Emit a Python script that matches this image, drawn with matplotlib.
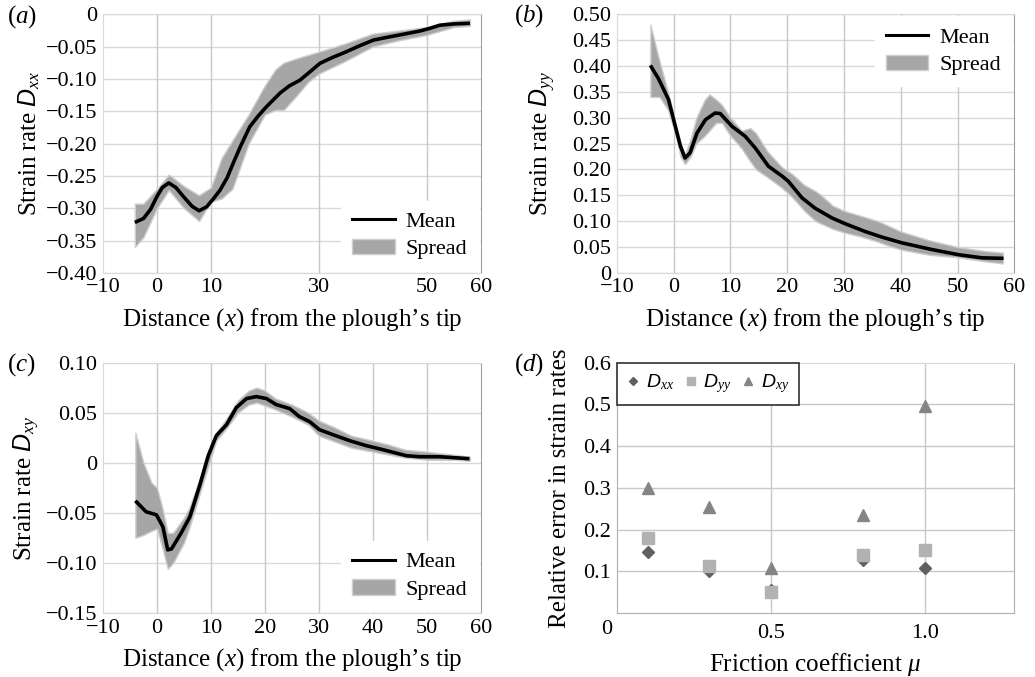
import numpy as np
import matplotlib
matplotlib.use("Agg")
import matplotlib.pyplot as plt
from matplotlib.lines import Line2D
from matplotlib.patches import Patch

plt.rcParams["font.family"] = ["Liberation Serif", "DejaVu Serif"]
plt.rcParams["mathtext.fontset"] = "custom"
plt.rcParams["mathtext.rm"] = "Liberation Serif"
plt.rcParams["mathtext.it"] = "Liberation Serif:italic"
plt.rcParams["mathtext.sf"] = "Liberation Sans:italic"
plt.rcParams["axes.unicode_minus"] = True

# (a) Dxx
a_x = [-4.1, -2.5, -1.2, 0.0, 1.0, 2.2, 3.5, 4.9, 6.5, 7.8, 9.2, 10.5, 11.7, 13.0, 14.1, 15.5, 17.2,
       18.8, 20.3, 22.8, 24.5, 26.5, 28.5, 30.2, 32.5, 35.1, 37.5, 40.1, 42.5, 45.0, 48.7, 50.5, 52.4, 55.0, 58.0]
a_mean = [-0.322, -0.316, -0.302, -0.282, -0.268, -0.261, -0.268, -0.282, -0.297, -0.304, -0.298, -0.285,
          -0.272, -0.253, -0.231, -0.204, -0.174, -0.157, -0.143, -0.122, -0.111, -0.102, -0.088, -0.076,
          -0.067, -0.058, -0.049, -0.040, -0.036, -0.032, -0.026, -0.022, -0.017, -0.015, -0.014]
a_bx = [-4.1, -2.5, 0.0, 2.2, 5.0, 7.8, 10.0, 12.0, 14.0, 17.0, 20.0, 22.0, 23.5, 26.0, 28.0, 30.0,
        35.0, 40.0, 45.0, 50.0, 55.0, 58.0]
a_hi = [-0.293, -0.293, -0.270, -0.248, -0.266, -0.280, -0.268, -0.222, -0.195, -0.155, -0.110, -0.085,
        -0.075, -0.068, -0.063, -0.058, -0.045, -0.030, -0.025, -0.020, -0.010, -0.008]
a_lo = [-0.360, -0.345, -0.300, -0.272, -0.300, -0.320, -0.290, -0.285, -0.270, -0.200, -0.155, -0.148,
        -0.148, -0.125, -0.105, -0.092, -0.072, -0.050, -0.040, -0.032, -0.020, -0.018]

# (b) Dyy
b_x = [-4.1, -2.7, -0.9, 0.3, 1.2, 2.0, 2.9, 4.1, 5.6, 7.3, 8.2, 10.3, 12.6, 14.4, 16.7, 19.1, 20.2,
       22.6, 24.9, 27.9, 30.2, 33.7, 36.7, 40.2, 45.5, 50.2, 54.3, 58.1]
b_mean = [0.401, 0.376, 0.335, 0.283, 0.245, 0.222, 0.232, 0.270, 0.296, 0.309, 0.308, 0.283, 0.264,
          0.241, 0.206, 0.187, 0.177, 0.145, 0.125, 0.106, 0.095, 0.080, 0.069, 0.058, 0.045, 0.035,
          0.029, 0.028]
b_bx = [-4.1, -2.5, -1.0, 0.3, 1.2, 2.0, 3.0, 4.0, 5.5, 6.3, 7.5, 8.5, 10.0, 12.0, 13.5, 14.5, 16.5,
        19.0, 21.0, 23.0, 25.0, 26.0, 28.0, 30.0, 33.0, 36.0, 38.0, 40.0, 45.0, 50.0, 55.0, 58.0]
b_hi = [0.480, 0.410, 0.350, 0.290, 0.250, 0.228, 0.260, 0.300, 0.335, 0.345, 0.335, 0.325, 0.300,
        0.275, 0.280, 0.270, 0.235, 0.205, 0.190, 0.170, 0.158, 0.150, 0.130, 0.120, 0.110, 0.100,
        0.090, 0.080, 0.063, 0.050, 0.042, 0.039]
b_lo = [0.340, 0.340, 0.315, 0.270, 0.225, 0.210, 0.225, 0.250, 0.265, 0.275, 0.290, 0.290, 0.265,
        0.240, 0.215, 0.200, 0.185, 0.165, 0.145, 0.120, 0.100, 0.095, 0.085, 0.078, 0.070, 0.060,
        0.052, 0.045, 0.035, 0.030, 0.022, 0.018]

# (c) Dxy
c_x = [-4.0, -2.0, -0.1, 1.1, 2.0, 2.7, 4.5, 6.1, 7.9, 9.5, 11.0, 12.9, 14.7, 16.6, 18.4, 20.3, 22.1,
       24.6, 26.4, 28.3, 30.1, 32.6, 35.7, 38.8, 41.9, 46.2, 48.7, 52.4, 57.9]
c_mean = [-0.038, -0.049, -0.052, -0.064, -0.087, -0.086, -0.070, -0.054, -0.023, 0.007, 0.027, 0.038,
          0.055, 0.064, 0.066, 0.064, 0.058, 0.054, 0.046, 0.041, 0.033, 0.028, 0.022, 0.017, 0.013,
          0.007, 0.006, 0.006, 0.004]
c_bx = [-4.0, -2.5, -1.0, 0.0, 1.0, 2.0, 3.0, 5.0, 6.0, 8.0, 10.0, 11.0, 13.0, 15.0, 17.0, 18.5, 20.0,
        22.0, 25.0, 28.0, 30.0, 33.0, 36.0, 40.0, 43.0, 46.0, 50.0, 55.0, 58.0]
c_hi = [0.030, 0.000, -0.020, -0.025, -0.045, -0.070, -0.070, -0.055, -0.045, -0.015, 0.015, 0.030,
        0.045, 0.062, 0.072, 0.075, 0.072, 0.064, 0.058, 0.050, 0.042, 0.035, 0.027, 0.022, 0.018,
        0.013, 0.011, 0.008, 0.006]
c_lo = [-0.075, -0.072, -0.068, -0.066, -0.085, -0.106, -0.100, -0.080, -0.065, -0.030, 0.005, 0.022,
        0.035, 0.050, 0.058, 0.060, 0.057, 0.053, 0.046, 0.038, 0.027, 0.021, 0.015, 0.011, 0.008,
        0.005, 0.003, 0.003, 0.002]

# (d) relative errors
mu = [0.1, 0.3, 0.5, 0.8, 1.0]
err_xx = [0.145, 0.100, 0.055, 0.128, 0.108]
err_yy = [0.180, 0.112, 0.050, 0.140, 0.150]
err_xy = [0.300, 0.255, 0.108, 0.235, 0.495]

FS = 16      # tick labels, legends
FSL = 18     # axis labels
GRID = "#d9d9d9"
FILL = "#a6a6a6"
XLAB = r"Distance ($\mathit{x}$) from the plough’s tip"

fig = plt.figure(figsize=(10.35, 6.77), dpi=100)
axa = fig.add_axes([0.0995, 0.597, 0.365, 0.382])
axb = fig.add_axes([0.596, 0.597, 0.384, 0.382])
axc = fig.add_axes([0.0995, 0.0945, 0.365, 0.370])
axd = fig.add_axes([0.596, 0.0945, 0.384, 0.370])


def fmt(v):
    if abs(v) < 1e-9:
        return "0"
    return ("%.2f" % v).replace("-", "\u2212")


def style(ax):
    for s in ["left", "bottom", "top"]:
        ax.spines[s].set_color(GRID)
    ax.spines["right"].set_color("#a0a0a0")
    ax.tick_params(length=0, labelsize=FS, pad=4)
    ax.set_axisbelow(True)


def strain_panel(ax, x, m, bx, lo, hi, ylim, yticks, xticks, xgrid, ylab, loc, ypad):
    style(ax)
    for g in yticks:
        ax.axhline(g, color=GRID, lw=1, zorder=0)
    for g in xgrid:
        ax.axvline(g, color="#c8c8c8", lw=1, zorder=0)
    ax.fill_between(bx, lo, hi, color=FILL, edgecolor="#cfcfcf", lw=1, zorder=2)
    ax.plot(x, m, color="black", lw=2.6, zorder=3, solid_capstyle="butt", solid_joinstyle="round")
    ax.set_xlim(-10, 60)
    ax.set_ylim(*ylim)
    ax.set_xticks(xticks)
    ax.set_xticklabels([fmt(t).replace(".00", "") for t in xticks])
    ax.set_yticks(yticks)
    ax.set_yticklabels([fmt(t) for t in yticks])
    ax.set_xlabel(XLAB, fontsize=FSL, labelpad=6)
    ax.set_ylabel(ylab, fontsize=FSL, labelpad=ypad)
    handles = [Line2D([], [], color="black", lw=2.2),
               Patch(facecolor=FILL, edgecolor="#cfcfcf")]
    leg = ax.legend(handles, ["Mean", "Spread"], loc=loc, fontsize=FS, frameon=True,
                    fancybox=False, framealpha=1, facecolor="white", edgecolor="white",
                    borderaxespad=0.1, borderpad=0.5, handlelength=1.9, handletextpad=0.5,
                    labelspacing=0.3)
    leg.set_zorder(5)


strain_panel(axa, a_x, a_mean, a_bx, a_lo, a_hi, (-0.4, 0.0), np.arange(-0.4, 0.001, 0.05),
             [-10, 0, 10, 30, 50, 60], [0, 10, 30, 50], r"Strain rate $\mathsf{D}_{\mathit{xx}}$",
             "lower right", 3)
strain_panel(axb, b_x, b_mean, b_bx, b_lo, b_hi, (0.0, 0.5), np.arange(0, 0.501, 0.05),
             list(range(-10, 61, 10)), [0, 10, 20, 30, 40, 50], r"Strain rate $\mathsf{D}_{\mathit{yy}}$",
             "upper right", 10)
strain_panel(axc, c_x, c_mean, c_bx, c_lo, c_hi, (-0.15, 0.10), np.arange(-0.15, 0.101, 0.05),
             list(range(-10, 61, 10)), [0, 10, 20, 30, 40, 50], r"Strain rate $\mathsf{D}_{\mathit{xy}}$",
             "lower right", 3)

# (d)
style(axd)
for s in ["left", "bottom", "right"]:
    axd.spines[s].set_color("#b0b0b0")
for g in [0.1, 0.2, 0.3, 0.4, 0.5]:
    axd.axhline(g, color="#c8c8c8", lw=1, zorder=0)
for g in [0.5, 1.0]:
    axd.axvline(g, color="#c8c8c8", lw=1, zorder=0)
axd.plot(mu, err_xx, "D", color="#606060", ms=6, ls="none", label=r"$\mathsf{D}_{\mathit{xx}}$", zorder=3)
axd.plot(mu, err_yy, "s", color="#b2b2b2", ms=8, ls="none", label=r"$\mathsf{D}_{\mathit{yy}}$", zorder=3)
axd.plot(mu, err_xy, "^", color="#858585", ms=9, ls="none", label=r"$\mathsf{D}_{\mathit{xy}}$", zorder=3)
axd.set_xlim(0, 1.29)
axd.set_ylim(0, 0.6)
axd.set_xticks([0.5, 1.0])
axd.set_xticklabels(["0.5", "1.0"])
axd.set_yticks([0.1, 0.2, 0.3, 0.4, 0.5, 0.6])
axd.set_yticklabels(["0.1", "0.2", "0.3", "0.4", "0.5", "0.6"])
axd.tick_params(axis="x", pad=8)
axd.text(-0.012, -0.065, "0", transform=axd.transAxes, ha="right", va="center", fontsize=FS)
axd.set_xlabel(r"Friction coefficient $\mu$", fontsize=FSL, labelpad=6)
axd.set_ylabel("Relative error in strain rates", fontsize=FSL, labelpad=9)
leg = axd.legend(loc="upper left", ncol=3, fontsize=14, frameon=True, fancybox=False, framealpha=1,
                 edgecolor="#303030", borderaxespad=0, markerscale=0.7, handlelength=0.7,
                 handletextpad=0.3, columnspacing=0.5, borderpad=0.5)
leg.get_frame().set_linewidth(1.2)
leg.set_zorder(5)

# panel labels
for lab, (px, py) in zip("abcd", [(0.007, 0.975), (0.497, 0.977), (0.007, 0.462), (0.497, 0.462)]):
    fig.text(px, py, r"($\mathit{%s}$)" % lab, fontsize=18, ha="left", va="center")

fig.savefig("out.png", dpi=100)
